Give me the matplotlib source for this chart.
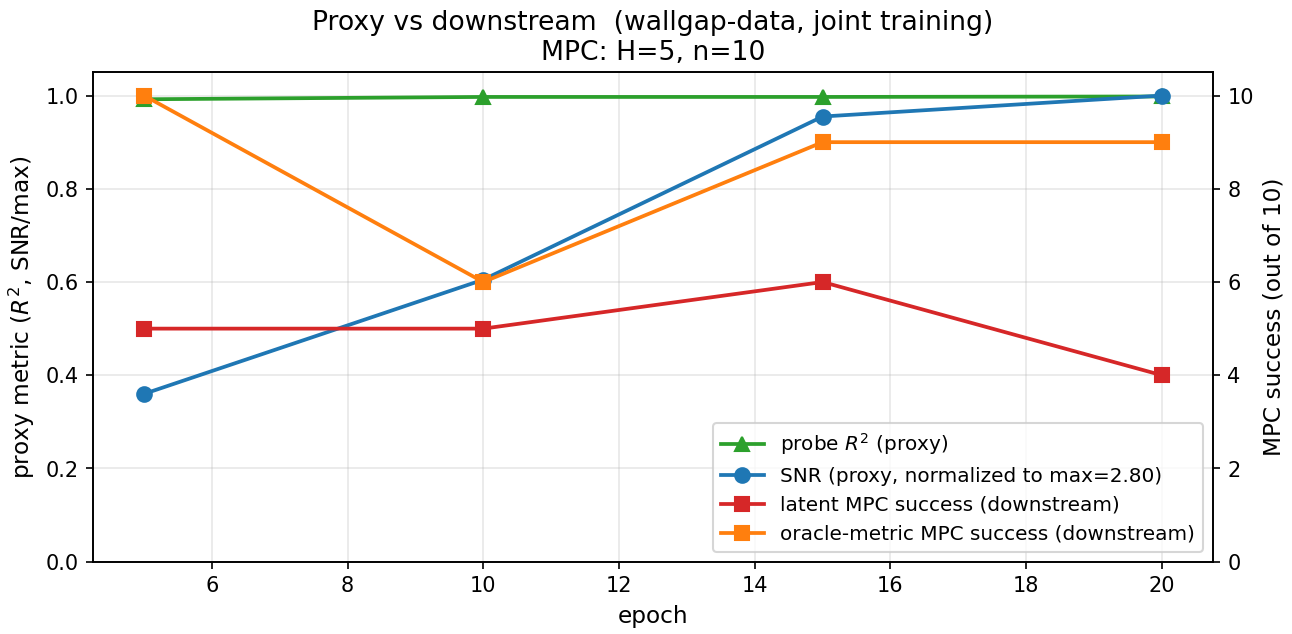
import matplotlib
matplotlib.use("Agg")
import matplotlib.pyplot as plt

epochs = [5, 10, 15, 20]
probe_r2 = [0.992, 0.997, 0.997, 0.998]
snr_norm = [0.36, 0.605, 0.955, 1.0]
snr_max = 2.80
latent_succ = [5, 5, 6, 4]
oracle_succ = [10, 6, 9, 9]
n_eval = 10

fig, ax = plt.subplots(figsize=(8.62, 4.227), dpi=150)
ax2 = ax.twinx()

l1, = ax.plot(epochs, probe_r2, "-^", color="tab:green", lw=1.8, ms=7, label="probe $R^2$ (proxy)")
l2, = ax.plot(epochs, snr_norm, "-o", color="tab:blue", lw=1.8, ms=7,
              label=f"SNR (proxy, normalized to max={snr_max:.2f})")
l3, = ax2.plot(epochs, latent_succ, "-s", color="tab:red", lw=1.8, ms=7, label="latent MPC success (downstream)")
l4, = ax2.plot(epochs, oracle_succ, "-s", color="tab:orange", lw=1.8, ms=7,
               label="oracle-metric MPC success (downstream)")

ax.set_ylim(0, 1.05)
ax2.set_ylim(0, n_eval * 1.05)
ax.set_xlabel("epoch", fontsize=11.2)
ax.set_ylabel("proxy metric ($R^2$, SNR/max)", fontsize=11.2)
ax2.set_ylabel(f"MPC success (out of {n_eval})", fontsize=11.2)
ax.tick_params(labelsize=10)
ax2.tick_params(labelsize=10)
ax.grid(True, alpha=0.3)
ax.set_title("Proxy vs downstream  (wallgap-data, joint training)\nMPC: H=5, n=10", fontsize=12.8)

lines = [l1, l2, l3, l4]
ax2.legend(lines, [l.get_label() for l in lines], loc="lower right", fontsize=9.6, handlelength=2.15)

fig.subplots_adjust(left=0.072, right=0.938, top=0.886, bottom=0.114)
fig.savefig("out.png")
